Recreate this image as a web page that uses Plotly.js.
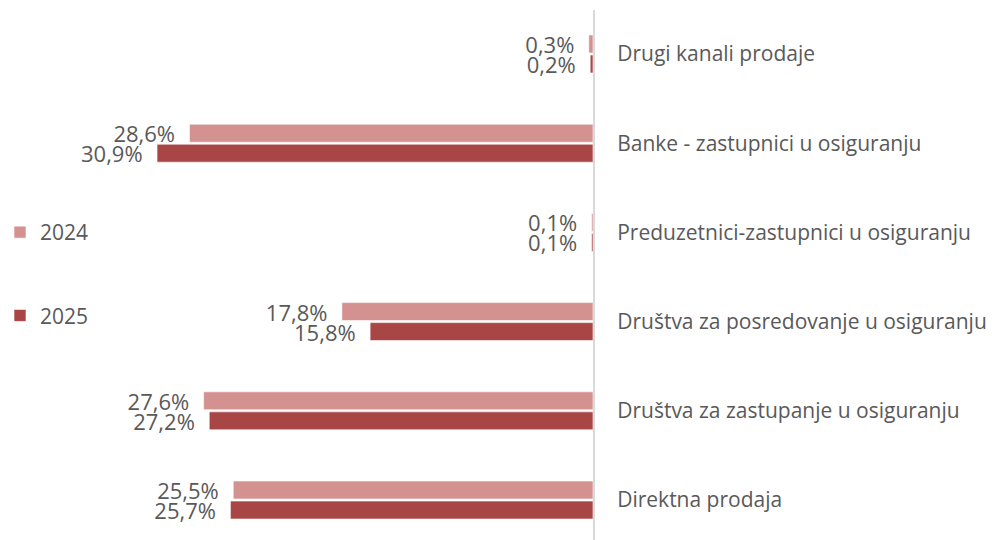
<!DOCTYPE html>
<html>
<head>
<meta charset="utf-8">
<script src="https://cdn.plot.ly/plotly-3.0.1.min.js"></script>
<style>html,body{margin:0;padding:0;background:#fff;}#chart{width:992px;height:540px;}</style>
</head>
<body>
<div id="chart"></div>
<script>
const categories = [
  "Drugi kanali prodaje",
  "Banke - zastupnici u osiguranju",
  "Preduzetnici-zastupnici u osiguranju",
  "Društva za posredovanje u osiguranju",
  "Društva za zastupanje u osiguranju",
  "Direktna prodaja"
];
const values2024 = [0.3, 28.6, 0.1, 17.8, 27.6, 25.5];
const values2025 = [0.2, 30.9, 0.1, 15.8, 27.2, 25.7];
const seriesNames = ["2024", "2025"];

const FONT = "Open Sans, Noto Sans, sans-serif";
const TXT = "#595959";
const fmt = v => v.toFixed(1).replace('.', ',') + '%\u00a0\u00a0';

function mk(name, vals, color) {
  return {
    type: 'bar', orientation: 'h', name: name, legendgroup: name,
    y: categories, x: vals,
    text: vals.map(fmt), textposition: 'outside', cliponaxis: false,
    constraintext: 'none',
    textfont: {family: FONT, size: 22, color: TXT},
    marker: {color: color, line: {color: 'rgba(255,255,255,0.6)', width: 1}},
    hoverinfo: 'skip'
  };
}

const data = [
  mk(seriesNames[0], values2024, '#d39190'),
  mk(seriesNames[1], values2025, '#a84645')
];

const layout = {
  width: 992, height: 540,
  margin: {l: 0, r: 399, t: 10, b: 0},
  paper_bgcolor: '#fff', plot_bgcolor: '#fff',
  barmode: 'group', bargap: 0.5516, bargroupgap: 0.1,
  font: {family: FONT, color: TXT, size: 21},
  xaxis: {range: [42.03, 0], showgrid: false, zeroline: false, showticklabels: false, ticks: '', fixedrange: true, automargin: false},
  yaxis: {
    type: 'category', range: [5.448, -0.493], side: 'right',
    showline: true, linecolor: '#d9d9d9', linewidth: 2,
    showgrid: false, zeroline: false, ticks: '', ticklabelstandoff: 18,
    tickfont: {family: FONT, size: 21, color: TXT}, automargin: false
  },
  showlegend: true,
  legend: {
    xref: 'paper', yref: 'paper', x: 0.0, y: 0.5019,
    xanchor: 'left', yanchor: 'middle',
    traceorder: 'grouped', tracegroupgap: 53, itemwidth: 30,
    font: {family: FONT, size: 21, color: TXT}, bgcolor: 'rgba(0,0,0,0)'
  }
};

Plotly.newPlot('chart', data, layout, {displayModeBar: false, staticPlot: true});
</script>
</body>
</html>
